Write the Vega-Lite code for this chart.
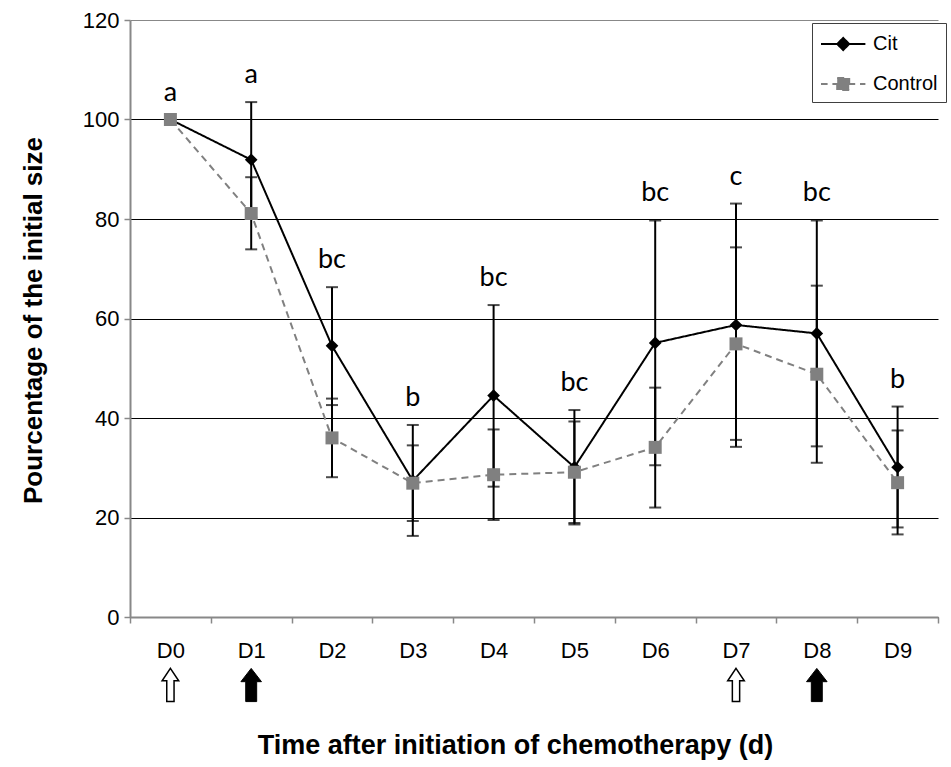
{
  "$schema": "https://vega.github.io/schema/vega-lite/v6.json",
  "autosize": {"type": "none"},
  "padding": {"left": 130, "top": 20, "right": 13, "bottom": 150},
  "width": 808,
  "height": 597,
  "background": "white",
  "config": {
    "view": {"stroke": null},
    "font": "Liberation Sans",
    "axis": {"labelFont": "Liberation Sans", "titleFont": "Liberation Sans", "labelColor": "black", "titleColor": "black"},
    "legend": {"labelFont": "Liberation Sans"}
  },
  "datasets": {
    "obs": [
      {"day": 0, "series": "Cit", "mean": 100, "lower": null, "upper": null, "letter": "a"},
      {"day": 1, "series": "Cit", "mean": 91.9, "lower": 80.3, "upper": 103.5, "letter": "a"},
      {"day": 2, "series": "Cit", "mean": 54.5, "lower": 42.6, "upper": 66.3, "letter": "bc"},
      {"day": 3, "series": "Cit", "mean": 27.4, "lower": 16.3, "upper": 38.6, "letter": "b"},
      {"day": 4, "series": "Cit", "mean": 44.5, "lower": 26.2, "upper": 62.7, "letter": "bc"},
      {"day": 5, "series": "Cit", "mean": 30.1, "lower": 18.6, "upper": 41.6, "letter": "bc"},
      {"day": 6, "series": "Cit", "mean": 55.1, "lower": 30.5, "upper": 79.7, "letter": "bc"},
      {"day": 7, "series": "Cit", "mean": 58.7, "lower": 34.2, "upper": 83.1, "letter": "c"},
      {"day": 8, "series": "Cit", "mean": 57.0, "lower": 34.3, "upper": 79.7, "letter": "bc"},
      {"day": 9, "series": "Cit", "mean": 30.1, "lower": 18.0, "upper": 42.3, "letter": "b"},
      {"day": 0, "series": "Control", "mean": 100, "lower": null, "upper": null, "letter": null},
      {"day": 1, "series": "Control", "mean": 81.1, "lower": 73.9, "upper": 88.4, "letter": null},
      {"day": 2, "series": "Control", "mean": 36.0, "lower": 28.1, "upper": 43.9, "letter": null},
      {"day": 3, "series": "Control", "mean": 26.9, "lower": 19.3, "upper": 34.5, "letter": null},
      {"day": 4, "series": "Control", "mean": 28.6, "lower": 19.5, "upper": 37.7, "letter": null},
      {"day": 5, "series": "Control", "mean": 29.1, "lower": 18.9, "upper": 39.3, "letter": null},
      {"day": 6, "series": "Control", "mean": 34.1, "lower": 22.0, "upper": 46.1, "letter": null},
      {"day": 7, "series": "Control", "mean": 54.9, "lower": 35.6, "upper": 74.3, "letter": null},
      {"day": 8, "series": "Control", "mean": 48.8, "lower": 31.0, "upper": 66.6, "letter": null},
      {"day": 9, "series": "Control", "mean": 27.0, "lower": 16.6, "upper": 37.5, "letter": null}
    ],
    "arrows": [
      {"day": 0, "kind": "open"},
      {"day": 1, "kind": "filled"},
      {"day": 7, "kind": "open"},
      {"day": 8, "kind": "filled"}
    ]
  },
  "layer": [
    {
      "data": {"name": "obs"},
      "transform": [{"filter": "datum.lower != null"}],
      "mark": {"type": "errorbar", "ticks": true, "size": 12, "thickness": 2, "color": "black"},
      "encoding": {
        "x": {"field": "day", "type": "quantitative",
          "scale": {"domain": [-0.5, 9.5], "nice": false, "zero": false},
          "axis": {
            "values": [-0.5, 0.5, 1.5, 2.5, 3.5, 4.5, 5.5, 6.5, 7.5, 8.5, 9.5],
            "labelExpr": "datum.value < 9 ? 'D' + (datum.value + 0.5) : ''",
            "labelOffset": 40.4,
            "labelFontSize": 22,
            "labelPadding": 17,
            "labelFlush": false, "labelOverlap": false, "labelBound": false,
            "grid": false,
            "tickSize": 6, "tickColor": "#888", "tickWidth": 1.5,
            "domainColor": "#888", "domainWidth": 2,
            "title": "Time after initiation of chemotherapy (d)",
            "titleFontSize": 27, "titleFontWeight": "bold",
            "titleX": 385, "titleY": 128, "titleAlign": "center", "titleBaseline": "middle", "titleAnchor": null
          }},
        "y": {"field": "lower", "type": "quantitative",
          "scale": {"domain": [0, 120], "nice": false},
          "axis": {
            "values": [0, 20, 40, 60, 80, 100, 120],
            "labelFontSize": 22, "labelPadding": 5,
            "tickSize": 6, "tickColor": "#888", "tickWidth": 1.5,
            "domainColor": "#888", "domainWidth": 2,
            "grid": true, "gridWidth": 1,
            "gridColor": {"condition": {"test": "datum.value === 120", "value": "#888"}, "value": "black"},
            "title": "Pourcentage of the initial size",
            "titleFontSize": 26, "titleFontWeight": "bold",
            "titleX": -97, "titleY": 300, "titleAlign": "center", "titleBaseline": "middle", "titleAnchor": null
          }},
        "y2": {"field": "upper"}
      }
    },
    {
      "data": {"name": "obs"},
      "mark": {"type": "line", "strokeWidth": 2},
      "encoding": {
        "x": {"field": "day", "type": "quantitative"},
        "y": {"field": "mean", "type": "quantitative"},
        "color": {"field": "series", "type": "nominal",
          "scale": {"domain": ["Cit", "Control"], "range": ["black", "#808080"]},
          "legend": {
            "title": null, "orient": "none", "legendX": 682, "legendY": 3,
            "fillColor": "white", "strokeColor": "#404040", "padding": 8,
            "symbolSize": 576, "rowPadding": 17, "labelOffset": 27,
            "labelFontSize": 20, "labelColor": "black",
            "encode": {
              "symbols": {"update": {
                "shape": {"signal": "datum.value === 'Cit' ? 'M-1,0H2.7M0.85,-0.5L1.35,0L0.85,0.5L0.35,0Z' : 'M-1,0H-0.45M-0.05,0H0.4M1.3,0H1.85M2.25,0H2.7M0.35,-0.5H1.35V0.5H0.35Z'"},
                "fill": {"signal": "datum.value === 'Cit' ? 'black' : '#808080'"},
                "stroke": {"signal": "datum.value === 'Cit' ? 'black' : '#808080'"},
                "strokeWidth": {"value": 2},
                "strokeDash": {"value": [1, 0]},
                "fillOpacity": {"value": 1},
                "strokeOpacity": {"value": 1},
                "opacity": {"value": 1}
              }}
            }
          }},
        "strokeDash": {"field": "series", "type": "nominal",
          "scale": {"domain": ["Cit", "Control"], "range": [[1, 0], [7, 5]]},
          "legend": null},
        "order": {"field": "day"}
      }
    },
    {
      "data": {"name": "obs"},
      "transform": [{"filter": "datum.series === 'Cit'"}],
      "mark": {"type": "point", "filled": true, "opacity": 1, "size": 160, "shape": "diamond", "color": "black"},
      "encoding": {
        "x": {"field": "day", "type": "quantitative"},
        "y": {"field": "mean", "type": "quantitative"}
      }
    },
    {
      "data": {"name": "obs"},
      "transform": [{"filter": "datum.series === 'Control'"}],
      "mark": {"type": "point", "filled": true, "opacity": 1, "size": 169, "shape": "square", "color": "#808080"},
      "encoding": {
        "x": {"field": "day", "type": "quantitative"},
        "y": {"field": "mean", "type": "quantitative"}
      }
    },
    {
      "data": {"name": "obs"},
      "transform": [
        {"filter": "datum.letter != null"},
        {"calculate": "datum.upper != null ? datum.upper : datum.mean", "as": "top"}
      ],
      "mark": {"type": "text", "font": "Lato", "fontSize": 27, "color": "black", "align": "center", "baseline": "alphabetic", "dy": -19},
      "encoding": {
        "x": {"field": "day", "type": "quantitative"},
        "y": {"field": "top", "type": "quantitative"},
        "text": {"field": "letter"}
      }
    },
    {
      "data": {"name": "arrows"},
      "transform": [{"filter": "datum.kind === 'open'"}],
      "mark": {"type": "point", "shape": "M0,-1L0.5,-0.25L0.22,-0.25L0.22,1L-0.22,1L-0.22,-0.25L-0.5,-0.25Z", "size": 1100, "filled": false, "fill": "white", "fillOpacity": 1, "stroke": "black", "strokeWidth": 1.5, "opacity": 1, "yOffset": 68},
      "encoding": {
        "x": {"field": "day", "type": "quantitative"},
        "y": {"datum": 0, "type": "quantitative"}
      }
    },
    {
      "data": {"name": "arrows"},
      "transform": [{"filter": "datum.kind === 'filled'"}],
      "mark": {"type": "point", "shape": "M0,-1L0.62,-0.2L0.33,-0.2L0.33,1L-0.33,1L-0.33,-0.2L-0.62,-0.2Z", "size": 1100, "filled": true, "fill": "black", "fillOpacity": 1, "stroke": "black", "strokeWidth": 1, "opacity": 1, "yOffset": 68},
      "encoding": {
        "x": {"field": "day", "type": "quantitative"},
        "y": {"datum": 0, "type": "quantitative"}
      }
    }
  ]
}
